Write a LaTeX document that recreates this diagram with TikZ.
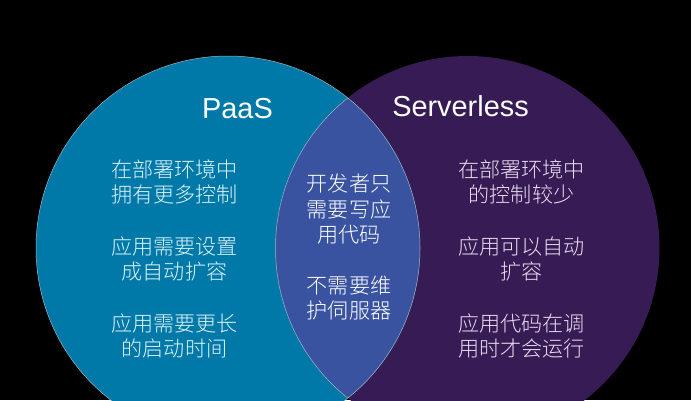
\documentclass[tikz,border=0pt]{standalone}
\usepackage{fontspec}
\setmainfont{Liberation Sans}
\newfontfamily\cjk{Noto Sans CJK SC Light}
\definecolor{leftc}{HTML}{0079A8}
\definecolor{rightc}{HTML}{371B54}
\definecolor{midc}{HTML}{3A53A0}
\definecolor{txtl}{HTML}{DDF3FA}
\definecolor{txtr}{HTML}{EBDDF2}
\definecolor{edgec}{HTML}{9FB4C4}
\tikzset{
  blurb/.style={align=center,font=\cjk\fontsize{21.2}{25.5}\selectfont,inner sep=0pt},
  head/.style={font=\fontsize{29}{33}\selectfont,inner sep=0pt,text=white},
}
\begin{document}
\begin{tikzpicture}[x=1bp,y=-1bp]
\useasboundingbox (0,0) rectangle (691,400);
\fill[black] (0,0) rectangle (691,400);
\begin{scope}
\clip (0,0) rectangle (691,400);
\fill[rightc] (467.5,248) circle[radius=192];
\fill[leftc] (228,248) circle[radius=192];
\begin{scope}
\clip (467.5,248) circle[radius=192];
\fill[midc] (228,248) circle[radius=192];
\end{scope}
\draw[edgec,line width=0.5bp] (228,248) circle[radius=192];
\begin{scope}
\clip (228,248) circle[radius=192];
\draw[edgec,line width=0.5bp] (467.5,248) circle[radius=192];
\end{scope}
\end{scope}
\node[head] (paas) at (237.5,109) {PaaS};
\node[head] (srv) at (460.5,106) {Serverless};
\node[blurb,text=txtl] (l1) at (174.5,182) {在部署环境中\\拥有更多控制};
\node[blurb,text=txtl] (l2) at (174.5,259) {应用需要设置\\成自动扩容};
\node[blurb,text=txtl] (l3) at (174.5,336) {应用需要更长\\的启动时间};
\node[blurb,text=white] (m1) at (349,209) {开发者只\\需要写应\\用代码};
\node[blurb,text=white] (m2) at (349,298) {不需要维\\护伺服器};
\node[blurb,text=txtr] (r1) at (521.5,182) {在部署环境中\\的控制较少};
\node[blurb,text=txtr] (r2) at (521.5,259) {应用可以自动\\扩容};
\node[blurb,text=txtr] (r3) at (521.5,336) {应用代码在调\\用时才会运行};
\end{tikzpicture}
\end{document}
